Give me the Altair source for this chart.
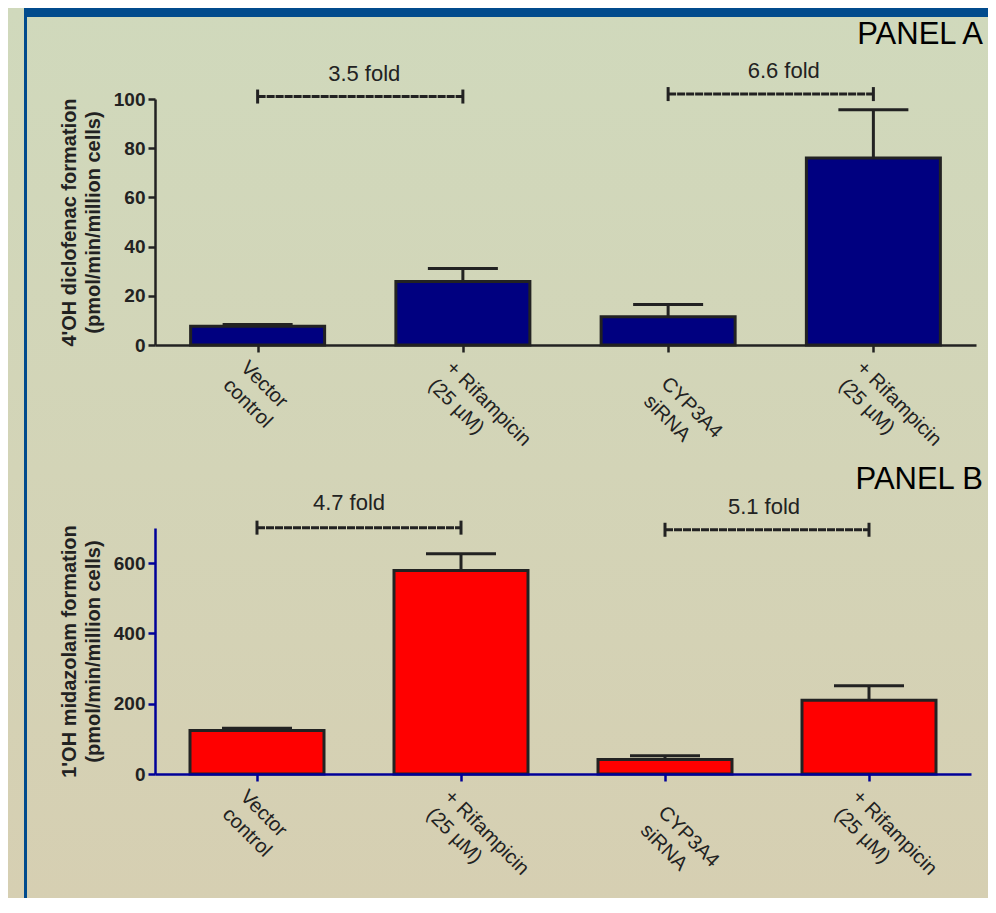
import json
import altair as alt
import pandas as pd

# ---------------- data ----------------
CATEGORY_LINES = [["Vector", "control"], ["+ Rifampicin", "(25 µM)"],
                  ["CYP3A4", "siRNA"], ["+ Rifampicin", "(25 µM)"]]
POSITIONS = [1, 2, 3, 4]

A_MEAN = [7.6, 25.8, 11.5, 76.0]
A_SEM = [0.7, 5.3, 5.0, 19.6]
B_MEAN = [124, 579, 41, 210]
B_SEM = [6, 48, 11, 41]

FOLD_LABELS_A = ["3.5 fold", "6.6 fold"]
FOLD_LABELS_B = ["4.7 fold", "5.1 fold"]
FOLD_FROM = [1, 3]
FOLD_TO = [2, 4]
FOLD_BAR_Y_A = [101, 102]
FOLD_TEXT_Y_A = [107.5, 108.4]
FOLD_BAR_Y_B = [701, 695]
FOLD_TEXT_Y_B = [751, 739]

FONT = "Liberation Sans"
DARK = "#222222"
BLUE_FRAME = "#014B8D"
BG_TOP = "#D0D9BC"
BG_MID = "#D3D4B7"
BG_BOT = "#D6CFB2"

LABEL_EXPR = f"{json.dumps(CATEGORY_LINES, ensure_ascii=False)}[datum.value - 1]"


def panel(mean, sem, fold_labels, bar_y, text_y, text_nudge, fill, axis_color,
          ymax, yvals, ytitle, width, height, panel_text, bg, top_px,
          panel_text_y):
    bars = pd.DataFrame({"pos": POSITIONS, "mean": mean,
                         "upper": [m + s for m, s in zip(mean, sem)]})
    folds = pd.DataFrame({"label": fold_labels, "x1": FOLD_FROM, "x2": FOLD_TO,
                          "y": bar_y, "ty": text_y})
    folds["xm"] = (folds["x1"] + folds["x2"]) / 2
    ends = pd.DataFrame({"x": FOLD_FROM + FOLD_TO, "y": bar_y + bar_y})
    one = pd.DataFrame({"a": [0]})

    xs = alt.Scale(domain=[0.5, 4.5], nice=False, zero=False, padding=0)
    ys = alt.Scale(domain=[0, ymax], nice=False, padding=0)

    x_axis = alt.Axis(
        values=POSITIONS, labelExpr=LABEL_EXPR, title=None, grid=False,
        labelAngle=45, labelAlign="left", labelBaseline="top",
        labelFont=FONT, labelFontSize=20, labelColor=DARK, labelLineHeight=25,
        labelOffset={"condition": {"test": "datum.value === 3", "value": 3}, "value": -7},
        labelPadding={"condition": {"test": "datum.value === 3", "value": 21}, "value": 5},
        tickSize=7, tickWidth=2.5, tickColor=axis_color,
        domainColor=axis_color, domainWidth=2.5, zindex=1, labelFlush=False,
        labelOverlap=False, labelBound=False)
    y_axis = alt.Axis(
        values=yvals, title=ytitle, grid=False,
        titleFont=FONT, titleFontSize=20, titleFontWeight="bold", titleColor=DARK,
        titleLineHeight=24, titlePadding=10,
        labelFont=FONT, labelFontSize=19, labelFontWeight="bold", labelColor=DARK,
        labelPadding=3, tickSize=7, tickWidth=2.5, tickColor=axis_color,
        domainColor=axis_color, domainWidth=2.5, zindex=1)

    left = -147
    right = 980 - 147
    layers = [
        alt.Chart(one).mark_rect(color=alt.Gradient(
            gradient="linear",
            stops=[alt.GradientStop(color=bg[0], offset=0),
                   alt.GradientStop(color=bg[1], offset=1)],
            x1=0, x2=0, y1=0, y2=1)).encode(
            x=alt.value(left), x2=alt.value(right),
            y=alt.value(bg[2]), y2=alt.value(bg[3])),
        alt.Chart(one).mark_rect(color=BLUE_FRAME).encode(
            x=alt.value(-131), x2=alt.value(-128),
            y=alt.value(bg[2]), y2=alt.value(bg[3])),
    ]
    if top_px is not None:
        layers.append(alt.Chart(one).mark_rect(color=BLUE_FRAME).encode(
            x=alt.value(-131), x2=alt.value(right),
            y=alt.value(top_px[0]), y2=alt.value(top_px[1])))
    layers += [
        alt.Chart(one).mark_text(text=panel_text, font=FONT, fontSize=31,
                                 color="#000000", align="right",
                                 baseline="alphabetic").encode(
            x=alt.value(828), y=alt.value(panel_text_y)),
        alt.Chart(bars).mark_bar(size=134, fill=fill, stroke=DARK,
                                 strokeWidth=3).encode(
            x=alt.X("pos:Q", scale=xs, axis=x_axis),
            y=alt.Y("mean:Q", scale=ys, axis=y_axis)),
        alt.Chart(bars).mark_rule(color=DARK, strokeWidth=3).encode(
            x="pos:Q", y="mean:Q", y2="upper:Q"),
        alt.Chart(bars).mark_tick(orient="horizontal", size=70, thickness=3,
                                  color=DARK, opacity=1).encode(
            x="pos:Q", y="upper:Q"),
        alt.Chart(folds).mark_rule(color=DARK, strokeWidth=3,
                                   strokeDash=[8, 1]).encode(
            x="x1:Q", x2="x2:Q", y="y:Q"),
        alt.Chart(ends).mark_tick(orient="vertical", size=14, thickness=3,
                                  color=DARK, opacity=1).encode(
            x="x:Q", y="y:Q"),
    ]
    for i, nudge in enumerate(text_nudge):
        layers.append(
            alt.Chart(folds.iloc[[i]]).mark_text(
                font=FONT, fontSize=22, color=DARK, align="center",
                baseline="alphabetic", dx=nudge).encode(
                x="xm:Q", y="ty:Q", text="label:N"))
    return alt.layer(*layers).properties(width=width, height=height)


panel_a = panel(A_MEAN, A_SEM, FOLD_LABELS_A, FOLD_BAR_Y_A, FOLD_TEXT_Y_A,
                [4, 13], "#000080", DARK, 100, [0, 20, 40, 60, 80, 100],
                ["4'OH diclofenac formation", "(pmol/min/million cells)"],
                821, 246, "PANEL A", (BG_TOP, BG_MID, -91, 372), (-91, -82), -55)

panel_b = panel(B_MEAN, B_SEM, FOLD_LABELS_B, FOLD_BAR_Y_B, FOLD_TEXT_Y_B,
                [-10, -3], "#FF0000", "#000099", 700, [0, 200, 400, 600],
                ["1'OH midazolam formation", "(pmol/min/million cells)"],
                816, 246, "PANEL B", (BG_MID, BG_BOT, -58, 370), None, -39)

chart = alt.vconcat(panel_a, panel_b, spacing=183, bounds="flush").configure(
    background=BG_MID, padding=0
).configure_view(stroke=None)

chart.save("out.html", embed_options={"renderer": "svg", "actions": False})
